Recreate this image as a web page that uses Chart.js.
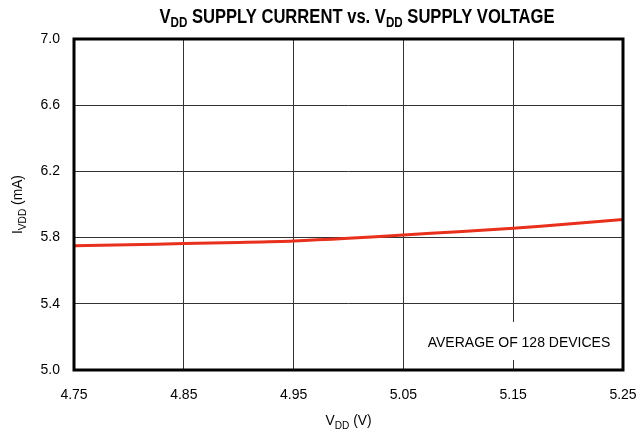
<!DOCTYPE html>
<html>
<head>
<meta charset="utf-8">
<script src="https://cdn.jsdelivr.net/npm/chart.js@4"></script>
<style>html,body{margin:0;padding:0;background:#fff;}</style>
</head>
<body>
<canvas id="chart" width="637" height="439"></canvas>
<script>
// supply voltage (V) and average supply current (mA)
const vdd = [4.75, 4.80, 4.85, 4.90, 4.95, 5.00, 5.05, 5.10, 5.15, 5.20, 5.25];
const ivdd = [5.750, 5.757, 5.764, 5.771, 5.780, 5.796, 5.816, 5.836, 5.856, 5.882, 5.909];
const xTicks = [4.75, 4.85, 4.95, 5.05, 5.15, 5.25];
const yTicks = [5.0, 5.4, 5.8, 6.2, 6.6, 7.0];
// [text, subscript?]
const titleParts = [["V", false], ["DD", true], [" SUPPLY CURRENT vs. ", false], ["V", false], ["DD", true], [" SUPPLY VOLTAGE", false]];
const xTitleParts = [["V", false], ["DD", true], [" (V)", false]];
const yTitleParts = [["I", false], ["VDD", true], [" (mA)", false]];
const note = "AVERAGE OF 128 DEVICES";

const FONT = "'Liberation Sans', Arial, sans-serif";

function richWidth(ctx, parts, size, weight) {
  let w = 0;
  parts.forEach(([t, sub]) => {
    ctx.font = weight + " " + (sub ? Math.round(size * 0.72) : size) + "px " + FONT;
    w += ctx.measureText(t).width;
  });
  return w;
}

function drawRich(ctx, parts, cx, cy, size, weight, squeeze) {
  ctx.save();
  ctx.translate(cx, cy);
  ctx.scale(squeeze, 1);
  let x = -richWidth(ctx, parts, size, weight) / 2;
  ctx.fillStyle = "#000";
  ctx.textBaseline = "middle";
  ctx.textAlign = "left";
  parts.forEach(([t, sub]) => {
    ctx.font = weight + " " + (sub ? Math.round(size * 0.72) : size) + "px " + FONT;
    ctx.fillText(t, x, sub ? size * 0.3 : 0);
    x += ctx.measureText(t).width;
  });
  ctx.restore();
}

const decor = {
  id: "decor",
  afterDatasetsDraw(chart) {
    const ctx = chart.ctx;
    const a = chart.chartArea;
    // note box covers grid
    ctx.save();
    ctx.fillStyle = "#fff";
    ctx.fillRect(a.right - 208, a.bottom - 48, 206, 38);
    ctx.fillStyle = "#000";
    ctx.font = "14px " + FONT;
    ctx.textAlign = "center";
    ctx.textBaseline = "middle";
    ctx.fillText(note, a.right - 104, a.bottom - 27);
    // frame
    ctx.strokeStyle = "#000";
    ctx.lineWidth = 3;
    ctx.strokeRect(a.left, a.top, a.right - a.left, a.bottom - a.top);
    ctx.restore();

    drawRich(ctx, titleParts, 357, 17, 20, "bold", 0.83);
    drawRich(ctx, xTitleParts, (a.left + a.right) / 2, 421, 15, "normal", 0.92);
    ctx.save();
    ctx.translate(18, (a.top + a.bottom) / 2);
    ctx.rotate(-Math.PI / 2);
    drawRich(ctx, yTitleParts, 0, 0, 15, "normal", 0.92);
    ctx.restore();
  }
};

new Chart(document.getElementById("chart"), {
  type: "line",
  data: {
    datasets: [{
      data: vdd.map((v, i) => ({ x: v, y: ivdd[i] })),
      borderColor: "#e8301c",
      borderWidth: 3,
      pointRadius: 0,
      tension: 0.3,
      fill: false
    }]
  },
  options: {
    responsive: false,
    animation: false,
    layout: { padding: { top: 39, right: 14, left: 0, bottom: 0 } },
    plugins: { legend: { display: false }, tooltip: { enabled: false } },
    scales: {
      x: {
        type: "linear",
        min: 4.75,
        max: 5.25,
        afterBuildTicks: (s) => { s.ticks = xTicks.map((v) => ({ value: v })); },
        afterFit: (s) => { s.height = 69; s.paddingLeft = 0; s.paddingRight = 0; },
        border: { display: false },
        grid: { color: "#333", lineWidth: 1, drawTicks: false },
        ticks: {
          padding: 17,
          color: "#000",
          maxRotation: 0,
          font: { family: FONT, size: 14 },
          callback: (v) => v.toFixed(2)
        }
      },
      y: {
        min: 5.0,
        max: 7.0,
        afterBuildTicks: (s) => { s.ticks = yTicks.map((v) => ({ value: v })); },
        afterFit: (s) => { s.width = 74; s.paddingTop = 0; s.paddingBottom = 0; },
        border: { display: false },
        grid: { color: "#333", lineWidth: 1, drawTicks: false },
        ticks: {
          padding: 14,
          color: "#000",
          font: { family: FONT, size: 14 },
          callback: (v) => v.toFixed(1)
        }
      }
    }
  },
  plugins: [decor]
});
</script>
</body>
</html>
